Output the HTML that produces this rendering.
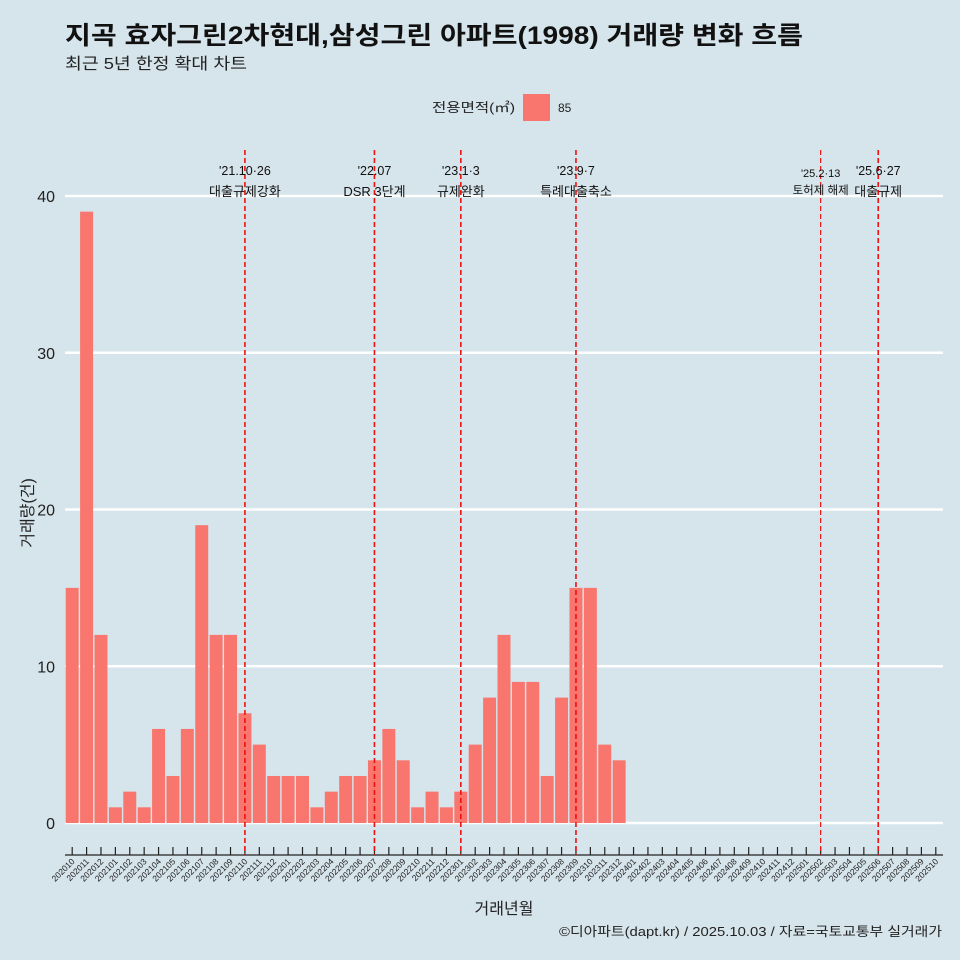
<!DOCTYPE html>
<html><head><meta charset="utf-8">
<style>
body{margin:0;background:#d6e4eb;}
svg{display:block;font-family:"Liberation Sans","Noto Sans CJK KR",sans-serif;}
</style></head>
<body>
<svg id="chart" width="960" height="960">
<rect width="960" height="960" fill="#d6e4eb"/>
<text x="65" y="44" font-size="25" font-weight="bold" fill="#111" textLength="738" lengthAdjust="spacingAndGlyphs">지곡 효자그린2차현대,삼성그린 아파트(1998) 거래량 변화 흐름</text>
<text x="65" y="69" font-size="16" fill="#222" textLength="182" lengthAdjust="spacingAndGlyphs">최근 5년 한정 확대 차트</text>
<g>
<text x="432" y="112" font-size="13" fill="#222" textLength="83" lengthAdjust="spacingAndGlyphs">전용면적(㎡)</text>
<rect x="523" y="94" width="27" height="27" fill="#f8766d"/>
<text x="558" y="112" font-size="12" fill="#222">85</text>
</g>
<g id="grid"></g>
<g id="bars"></g>
<g id="xaxis"></g>
<g id="events"></g>
<text x="0" y="0" font-size="16" fill="#222" transform="translate(33,513) rotate(-90)" text-anchor="middle">거래량(건)</text>
<text x="504" y="914" font-size="16" fill="#222" text-anchor="middle">거래년월</text>
<text x="559" y="936" font-size="13" fill="#222" textLength="383" lengthAdjust="spacingAndGlyphs">©디아파트(dapt.kr) / 2025.10.03 / 자료=국토교통부 실거래가</text>
</svg>
<script>
const months = [];
for (let y = 2020, m = 10; y < 2025 || (y === 2025 && m <= 10); ) { months.push(String(y) + String(m).padStart(2,'0')); m++; if (m > 12) { m = 1; y++; } }
const values = [15,39,12,1,2,1,6,3,6,19,12,12,7,5,3,3,3,1,2,3,3,4,6,4,1,2,1,2,5,8,12,9,9,3,8,15,15,5,4,
0,0,0,0,0,0,0,0,0,0,0,0,0,0,0,0,0,0,0,0,0,0,0];
const yTicks = [0,10,20,30,40];
const eventMonths = ['202110','202207','202301','202309','202502','202506'];
const eventDates = ["'21.10·26","'22.07","'23.1·3","'23.9·7","'25.2·13","'25.6·27"];
const eventLabels = ["대출규제강화","DSR 3단계","규제완화","특례대출축소","토허제 해제","대출규제"];

const NS = 'http://www.w3.org/2000/svg';
const x0 = 65, x1 = 943, step = (x1 - x0) / months.length;
const xC = i => x0 + (i + 0.5) * step;
const yS = v => 823 - v * (823 - 196) / 40;
function mk(tag, attrs, parent) { const e = document.createElementNS(NS, tag); for (const k in attrs) e.setAttribute(k, attrs[k]); parent.appendChild(e); return e; }

const grid = document.getElementById('grid');
yTicks.forEach(t => {
  const l = mk('line', {x1: x0, x2: x1, y1: yS(t), y2: yS(t), stroke: '#fff', 'stroke-width': 2.5}, grid);
  
  
  const tx = mk('text', {x: 55, y: yS(t) + 6, 'font-size': 16, fill: '#222', 'text-anchor': 'end'}, grid);
  tx.textContent = t;
  
  
});

const bars = document.getElementById('bars');
values.forEach((v, i) => {
  if (v <= 0) return;
  const r = mk('rect', {x: xC(i) - step * 0.45, width: step * 0.9, y: yS(v), height: yS(0) - yS(v), fill: '#f8766d'}, bars);
  
  
});

const xa = document.getElementById('xaxis');
const ax = mk('line', {x1: x0, x2: x1, y1: 855, y2: 855, stroke: '#222', 'stroke-width': 1.2}, xa);


months.forEach((m, i) => {
  const tk = mk('line', {x1: xC(i), x2: xC(i), y1: 847, y2: 855, stroke: '#222', 'stroke-width': 1.2}, xa);
  
  
  const t = mk('text', {x: 0, y: 0, 'font-size': 8.5, fill: '#222', 'text-anchor': 'end', transform: `translate(${xC(i) + 3},${862}) rotate(-45)`}, xa);
  t.textContent = m;
  
  
});

const ev = document.getElementById('events');
eventMonths.forEach((m, k) => {
  const i = months.indexOf(m);
  const x = xC(i);
  const small = m === '202502';
  const l = mk('line', {x1: x, x2: x, y1: 150, y2: 855, stroke: '#ee1111', 'stroke-width': small ? 1.2 : 1.6, 'stroke-dasharray': '5,3'}, ev);
  
  
  const d = mk('text', {x: x, y: small ? 177 : 175, 'font-size': small ? 11 : 12.5, fill: '#111', 'text-anchor': 'middle'}, ev);
  d.textContent = eventDates[k];
  
  
  const lb = mk('text', {x: x, y: small ? 194 : 196, 'font-size': small ? 11.5 : 13, fill: '#111', 'text-anchor': 'middle'}, ev);
  lb.textContent = eventLabels[k];
  
  
});
</script>
</body></html>
